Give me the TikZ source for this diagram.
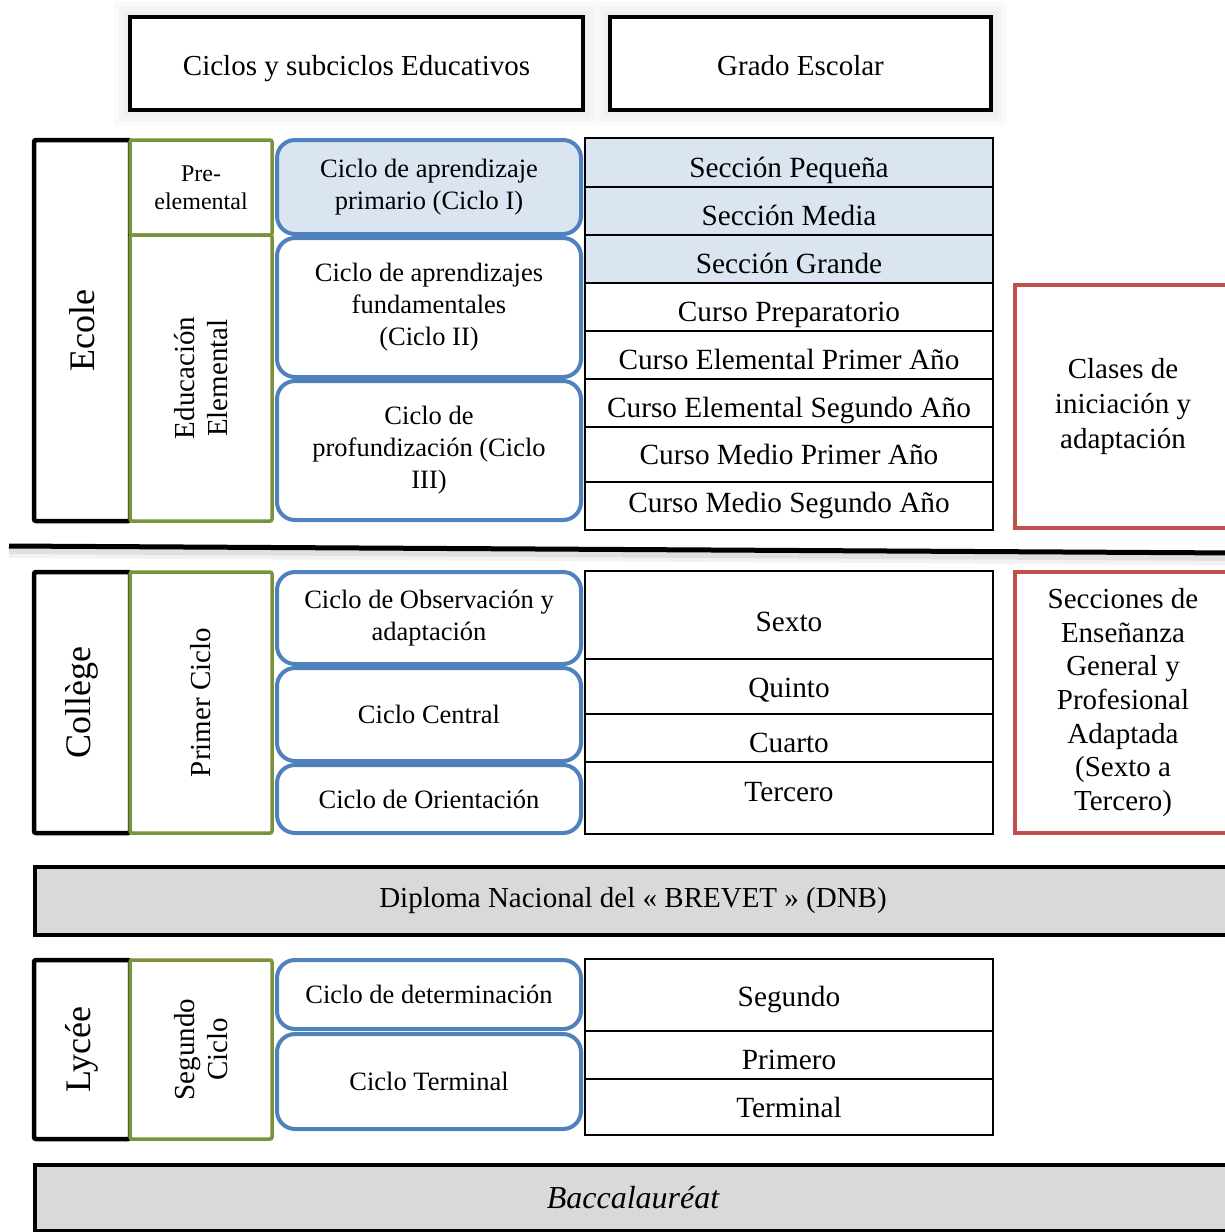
\documentclass[tikz,border=0pt]{standalone}
\usepackage{fontspec}
\setmainfont{Liberation Serif}
\usetikzlibrary{positioning}
\definecolor{cycleblue}{RGB}{79,129,189}
\definecolor{cyclefill}{RGB}{219,229,241}
\definecolor{stagegreen}{RGB}{119,147,60}
\definecolor{adaptred}{RGB}{192,80,77}
\definecolor{bargray}{RGB}{217,217,217}

\begin{document}
\begin{tikzpicture}[
  x = 1pt, y = -1pt,
  every node/.style = {inner sep=0pt, outer sep=0pt},
  headbox/.style = {draw, line width=4.5pt, fill=white, anchor=north west,
    preaction={draw=black!2, line width=32pt},
    preaction={draw=black!4, line width=22pt},
    preaction={draw=black!6, line width=13pt},
    text height=24pt, text depth=0pt,
    font=\fontsize{29}{34}\selectfont},
  levelbox/.style = {draw, line width=4.5pt, rounded corners=2pt, rotate=90,
    font=\fontsize{36}{40}\selectfont},
  stagebox/.style = {draw=stagegreen, line width=3.5pt, rounded corners=2pt,
    fill=white, align=center, minimum width=142pt,
    font=\fontsize{29}{33}\selectfont},
  cyclebox/.style = {draw=cycleblue, line width=4pt, rounded corners=18pt,
    fill=white, anchor=north west, minimum width=304pt, align=center,
    font=\fontsize{26.5}{32}\selectfont},
  gradebox/.style = {draw, line width=1.6pt, anchor=north west,
    minimum width=408pt, text height=29pt, text depth=0pt,
    font=\fontsize{29.3}{34}\selectfont},
  adaptbox/.style = {draw=adaptred, line width=4.5pt, anchor=north west,
    minimum width=216pt, align=center},
  diplomabar/.style = {draw, line width=4.5pt, fill=bargray, anchor=north west,
    minimum width=1196pt, font=\fontsize{29}{34}\selectfont}
]
  \useasboundingbox (0,0) rectangle (1225,1232);
  \clip (0,0) rectangle (1225,1232);

  % headings
  \node[headbox, minimum width=453pt, minimum height=93pt] (hcycles) at (130,17) {Ciclos y subciclos Educativos};
  \node[headbox, minimum width=381pt, minimum height=93pt] (hgrades) at (610,17) {Grado Escolar};

  % Ecole
  \node[levelbox, minimum width=381pt, minimum height=96pt] (ecole) at (82,330.5) {Ecole};
  \node[stagebox, anchor=north west, minimum height=95pt, font=\fontsize{24}{28}\selectfont] (prelem) at (130,140) {Pre-\\elemental};
  \node[stagebox, rotate=90, minimum width=286pt, minimum height=142pt] (elem) at (201,378) {Educación\\Elemental};

  \node[cyclebox, fill=cyclefill, minimum height=94pt] (cyc1) at (277,140) {Ciclo de aprendizaje\\primario (Ciclo I)};
  \node[cyclebox, minimum height=139pt] (cyc2) at (277,238) {Ciclo de aprendizajes\\fundamentales\\(Ciclo II)};
  \node[cyclebox, minimum height=139pt] (cyc3) at (277,381) {Ciclo de\\profundización (Ciclo\\III)};

  \node[gradebox, fill=cyclefill, minimum height=49pt] (ps) at (585,138) {Sección Pequeña};
  \node[gradebox, fill=cyclefill, minimum height=48pt] (ms) at (585,187) {Sección Media};
  \node[gradebox, fill=cyclefill, minimum height=48pt] (gs) at (585,235) {Sección Grande};
  \node[gradebox, minimum height=48pt] (cp) at (585,283) {Curso Preparatorio};
  \node[gradebox, minimum height=48pt] (ce1) at (585,331) {Curso Elemental Primer Año};
  \node[gradebox, minimum height=48pt] (ce2) at (585,379) {Curso Elemental Segundo Año};
  \node[gradebox, minimum height=55pt, text depth=9pt] (cm1) at (585,427) {Curso Medio Primer Año};
  \node[gradebox, minimum height=48pt, text depth=16pt] (cm2) at (585,482) {Curso Medio Segundo Año};

  \node[adaptbox, minimum height=243pt, font=\fontsize{29}{35}\selectfont] (clin) at (1015,285) {Clases de\\iniciación y\\adaptación};

  % separator
  \coordinate (sepL) at (9,546);
  \coordinate (sepR) at (1240,553);
  \draw[black!5, line width=14pt] ([yshift=-5pt]sepL) -- ([yshift=-5pt]sepR);
  \draw[black!12, line width=6pt] ([yshift=-5pt]sepL) -- ([yshift=-5pt]sepR);
  \draw[line width=5pt] (sepL) -- (sepR);

  % College
  \node[levelbox, minimum width=261pt, minimum height=96pt] (college) at (82,702.5) {Collège};
  \node[stagebox, rotate=90, minimum width=261pt, minimum height=142pt] (primer) at (201,702.5) {Primer Ciclo};

  \node[cyclebox, minimum height=92pt] (cobs) at (277,572) {Ciclo de Observación y\\adaptación};
  \node[cyclebox, minimum height=93pt] (ccen) at (277,668) {Ciclo Central};
  \node[cyclebox, minimum height=68pt] (cori) at (277,765) {Ciclo de Orientación};

  \node[gradebox, minimum height=88pt, text height=33pt] (sexto) at (585,571) {Sexto};
  \node[gradebox, minimum height=55pt, text depth=7pt] (quinto) at (585,659) {Quinto};
  \node[gradebox, minimum height=48pt] (cuarto) at (585,714) {Cuarto};
  \node[gradebox, minimum height=72pt, text depth=22pt] (tercero) at (585,762) {Tercero};

  \node[adaptbox, minimum height=261pt, font=\fontsize{29}{33.7}\selectfont] (segpa) at (1015,572) {Secciones de\\Enseñanza\\General y\\Profesional\\Adaptada\\(Sexto a\\Tercero)};

  % DNB
  \node[diplomabar, minimum height=68pt] (dnb) at (35,867) {Diploma Nacional del « BREVET » (DNB)};

  % Lycee
  \node[levelbox, minimum width=179pt, minimum height=96pt] (lycee) at (82,1049.5) {Lycée};
  \node[stagebox, rotate=90, minimum width=179pt, minimum height=142pt] (segundo) at (201,1049.5) {Segundo\\Ciclo};

  \node[cyclebox, minimum height=69pt] (cdet) at (277,960) {Ciclo de determinación};
  \node[cyclebox, minimum height=95pt] (cter) at (277,1034) {Ciclo Terminal};

  \node[gradebox, minimum height=72pt, text depth=6pt] (seconde) at (585,959) {Segundo};
  \node[gradebox, minimum height=48pt] (premiere) at (585,1031) {Primero};
  \node[gradebox, minimum height=56pt, text depth=8pt] (terminale) at (585,1079) {Terminal};

  % Baccalaureat
  \node[diplomabar, minimum height=66pt, font=\fontsize{32}{36}\selectfont] (bac) at (35,1165) {\itshape Baccalauréat};
\end{tikzpicture}
\end{document}
